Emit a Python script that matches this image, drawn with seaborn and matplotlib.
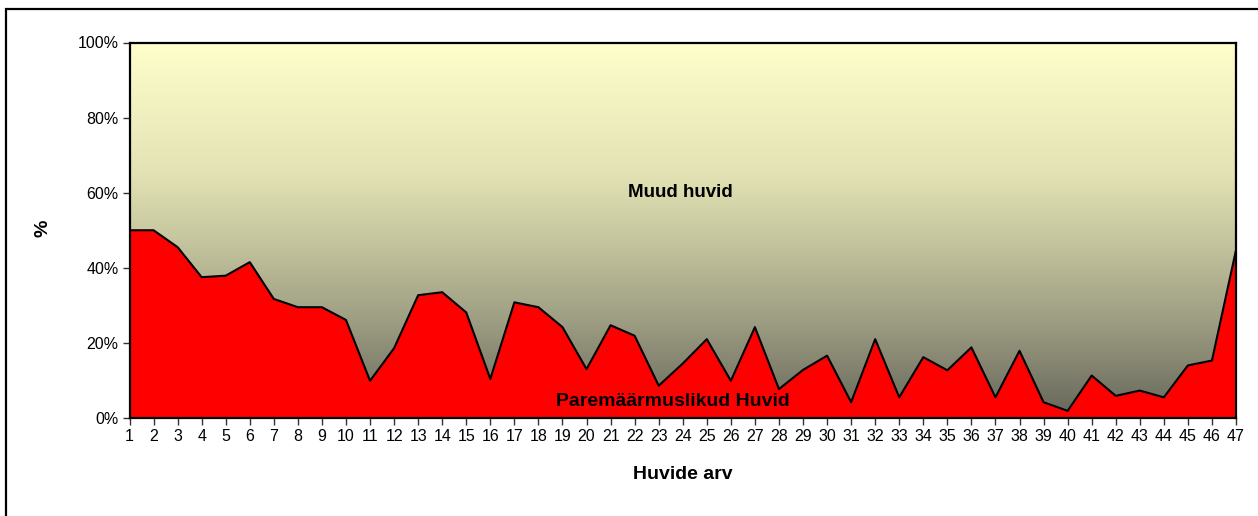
import numpy as np
import matplotlib
matplotlib.use("Agg")
import matplotlib.pyplot as plt
from matplotlib.colors import LinearSegmentedColormap
from matplotlib.patches import Rectangle
import seaborn as sns
import pandas as pd

# Data (share of interests, %)
huvide_arv = list(range(1, 48))
paremaarmuslikud = [50.0, 50.0, 45.5, 37.5, 37.9, 41.5, 31.7, 29.5, 29.5, 26.1,
                    9.9, 18.6, 32.7, 33.5, 28.1, 10.4, 30.8, 29.5, 24.2, 13.0,
                    24.7, 21.9, 8.6, 14.5, 21.0, 9.9, 24.2, 7.7, 12.8, 16.6,
                    4.2, 21.0, 5.5, 16.2, 12.7, 18.8, 5.5, 17.9, 4.2, 1.9,
                    11.3, 5.9, 7.3, 5.5, 14.0, 15.3, 44.7]
muud = [100 - v for v in paremaarmuslikud]
y_ticks = [0, 20, 40, 60, 80, 100]
y_ticklabels = ["0%", "20%", "40%", "60%", "80%", "100%"]

df = pd.DataFrame({"huvide_arv": huvide_arv,
                   "paremaarmuslikud": paremaarmuslikud,
                   "muud": muud})

sns.set_theme(style="white")
plt.rcParams["font.family"] = ["Liberation Sans", "DejaVu Sans"]
plt.rcParams["text.color"] = "black"
plt.rcParams["axes.labelcolor"] = "black"
plt.rcParams["xtick.color"] = "black"
plt.rcParams["ytick.color"] = "black"

fig = plt.figure(figsize=(12.58, 5.16), dpi=100)
ax = fig.add_axes([129.5 / 1258, 1 - 418 / 516, (1236 - 129.5) / 1258, (418 - 42.5) / 516])

# Gradient fill for "Muud huvid" (top of the stack)
grad_cmap = LinearSegmentedColormap.from_list(
    "muud", [(0.0, "#FFFFCC"), (0.35, "#E2E2B4"), (0.5, "#CACAA2"),
             (0.75, "#9C9C82"), (1.0, "#66665A")])
grad = np.linspace(0, 1, 256).reshape(-1, 1)
ax.imshow(grad, cmap=grad_cmap, aspect="auto", extent=[1, 47, 0, 100],
          origin="upper", zorder=0)

# Bottom layer: Paremäärmuslikud huvid
ax.fill_between(df["huvide_arv"], 0, df["paremaarmuslikud"], color="#FF0000",
                linewidth=0, zorder=1)
sns.lineplot(data=df, x="huvide_arv", y="paremaarmuslikud", color="black",
             linewidth=1.5, ax=ax, zorder=2)

ax.set_xlim(1, 47)
ax.set_ylim(0, 100)
ax.set_xticks(huvide_arv)
ax.set_xticklabels([str(v) for v in huvide_arv], fontsize=11.5)
ax.set_yticks(y_ticks)
ax.set_yticklabels(y_ticklabels, fontsize=11.5)
ax.tick_params(axis="both", which="both", direction="out", length=5, width=1,
               color="#333333", labelcolor="black", bottom=True, left=True, pad=3)

for s in ax.spines.values():
    s.set_visible(True)
    s.set_color("black")
    s.set_linewidth(1.6)
    s.set_zorder(5)

ax.set_xlabel("Huvide arv", fontsize=14, fontweight="bold", labelpad=16)
ax.set_ylabel("%", fontsize=14, fontweight="bold")
ax.yaxis.set_label_coords((51 - 129.5) / 1106.5, 0.505)

ax.text(23.9, 60, "Muud huvid", fontsize=13.5, fontweight="bold",
        ha="center", va="center", zorder=6)
ax.text(23.6, 4.5, "Paremäärmuslikud Huvid", fontsize=14, fontweight="bold",
        ha="center", va="center", zorder=6)

# Chart area border (top and left visible, rest runs off the image)
fig.patches.append(Rectangle((6 / 1258, -0.05), 1.1, 1 - 9 / 516 + 0.05,
                             transform=fig.transFigure, fill=False,
                             edgecolor="black", linewidth=1.6))

fig.savefig("out.png", dpi=100)
